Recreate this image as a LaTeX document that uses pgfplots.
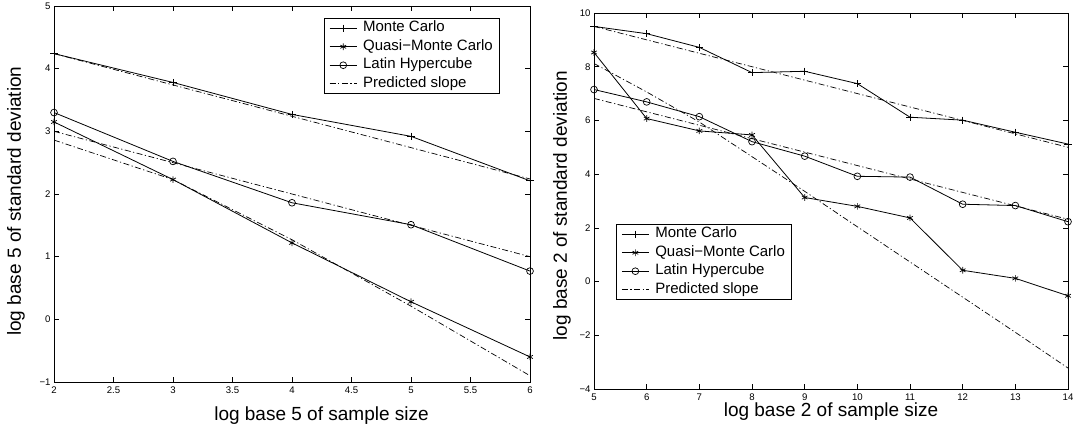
\documentclass[border=0pt]{standalone}
\usepackage{fontspec}
\setmainfont{Liberation Sans}
\usepackage{pgfplots}
\pgfplotsset{compat=1.18}

\pgfplotsset{
  matlab/.style={
    scale only axis,
    clip mode=individual,
    axis line style={line width=0.9bp},
    tick style={line width=0.7bp, black},
    major tick length=5bp,
    tick align=inside,
    xtick pos=both, ytick pos=both,
    tick label style={font=\fontsize{9.6bp}{11bp}\selectfont},
    xticklabel style={yshift=-1.5bp},
    label style={font=\fontsize{19bp}{22bp}\selectfont},
    legend style={font=\fontsize{15bp}{17bp}\selectfont, draw=black, line width=0.9bp,
      inner xsep=5bp, inner ysep=0.5bp, cells={anchor=west},
      /tikz/every odd column/.append style={column sep=4bp},
      nodes={text height=11bp, text depth=3.5bp, inner sep=2bp}},
    legend image code/.code={\draw[mark repeat=2,mark phase=2] plot coordinates {(0bp,0bp)(13.5bp,0bp)(27bp,0bp)};},
  },
  ser/.style={black, line width=0.8bp, mark options={solid, line width=0.7bp}},
  pred/.style={black, line width=0.7bp, dash pattern=on 6bp off 2.5bp on 1.2bp off 2.5bp},
}

\begin{document}
\begin{tikzpicture}[x=1bp,y=1bp]
\useasboundingbox (0,0) rectangle (1073,429);

\begin{axis}[matlab, at={(54bp,47bp)}, anchor=south west, width=476bp, height=376bp,
  xmin=2, xmax=6, ymin=-1, ymax=5,
  xtick={2,2.5,3,3.5,4,4.5,5,5.5,6}, xticklabels={2,2.5,3,3.5,4,4.5,5,5.5,6},
  ytick={-1,0,1,2,3,4,5}, yticklabels={−1,0,1,2,3,4,5},
  xlabel={log base 5 of sample size}, ylabel={log base 5 of standard deviation},
  xlabel style={at={(axis description cs:0.562,-0.0665)}, anchor=north, inner sep=0pt},
  ylabel style={at={(axis description cs:-0.0609,0.481)}, anchor=south, inner sep=0pt},
  legend style={at={(0.567,0.968)}, anchor=north west},
  legend entries={Monte Carlo, Quasi−Monte Carlo, Latin Hypercube, Predicted slope},
]
\addplot[ser, mark=+, mark size=3.6bp] coordinates {(2,4.24)(3,3.78)(4,3.27)(5,2.92)(6,2.21)};
\addplot[ser, mark=asterisk, mark size=3.3bp] coordinates {(2,3.15)(3,2.23)(4,1.22)(5,0.28)(6,-0.60)};
\addplot[ser, mark=o, mark size=3.4bp] coordinates {(2,3.30)(3,2.52)(4,1.86)(5,1.51)(6,0.77)};
\addplot[pred] coordinates {(2,4.24)(3,3.74)(4,3.24)(5,2.74)(6,2.24)};
\addplot[pred, forget plot] coordinates {(2,3.0)(3,2.5)(4,2.0)(5,1.5)(6,1.0)};
\addplot[pred, forget plot] coordinates {(2,2.86)(3,2.23)(4,1.27)(5,0.21)(6,-0.90)};
\end{axis}

\begin{axis}[matlab, at={(594bp,40bp)}, anchor=south west, width=474bp, height=376bp,
  xmin=5, xmax=14, ymin=-4, ymax=10,
  xtick={5,6,7,8,9,10,11,12,13,14}, xticklabels={5,6,7,8,9,10,11,12,13,14},
  ytick={-4,-2,0,2,4,6,8,10}, yticklabels={−4,−2,0,2,4,6,8,10},
  xlabel={log base 2 of sample size}, ylabel={log base 2 of standard deviation},
  xlabel style={at={(axis description cs:0.5,-0.0372)}, anchor=north, inner sep=0pt},
  ylabel style={at={(axis description cs:-0.0485,0.487)}, anchor=south, inner sep=0pt},
  legend style={at={(0.0464,0.4388)}, anchor=north west},
  legend entries={Monte Carlo, Quasi−Monte Carlo, Latin Hypercube, Predicted slope},
]
\addplot[ser, mark=+, mark size=3.6bp] coordinates {(5,9.50)(6,9.23)(7,8.72)(8,7.78)(9,7.83)(10,7.37)(11,6.12)(12,6.01)(13,5.56)(14,5.12)};
\addplot[ser, mark=asterisk, mark size=3.3bp] coordinates {(5,8.53)(6,6.07)(7,5.61)(8,5.46)(9,3.13)(10,2.80)(11,2.37)(12,0.42)(13,0.12)(14,-0.53)};
\addplot[ser, mark=o, mark size=3.4bp] coordinates {(5,7.15)(6,6.69)(7,6.14)(8,5.21)(9,4.67)(10,3.92)(11,3.89)(12,2.88)(13,2.83)(14,2.23)};
\addplot[pred] coordinates {(5,9.5)(6,9.0)(7,8.5)(8,8.0)(9,7.5)(10,7.0)(11,6.5)(12,6.0)(13,5.5)(14,5.0)};
\addplot[pred, forget plot] coordinates {(5,6.82)(6,6.32)(7,5.82)(8,5.32)(9,4.82)(10,4.32)(11,3.82)(12,3.32)(13,2.82)(14,2.32)};
\addplot[pred, forget plot] coordinates {(5,8.12)(6,7.06)(7,5.94)(8,4.65)(9,3.36)(10,2.04)(11,0.73)(12,-0.58)(13,-1.89)(14,-3.22)};
\end{axis}
\end{tikzpicture}
\end{document}
